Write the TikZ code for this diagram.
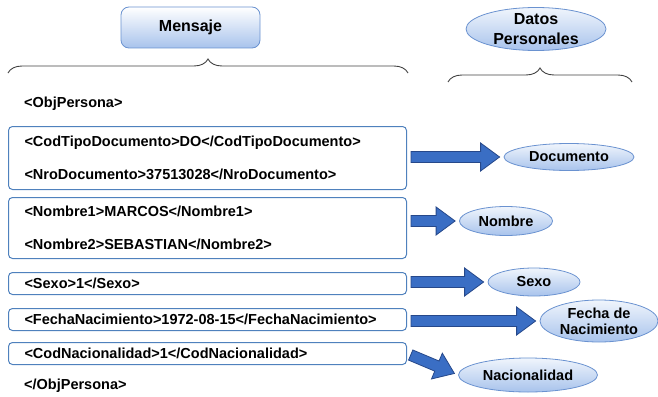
\documentclass[tikz,border=0pt]{standalone}
\usepackage{fontspec}
\setmainfont{Liberation Sans}
\usepackage{xcolor}
\usepackage{tikz}
\usetikzlibrary{calc,shapes.geometric,decorations.pathreplacing}

\definecolor{boxblue}{RGB}{79,129,189}
\definecolor{arrowfill}{RGB}{58,110,196}
\definecolor{arrowedge}{RGB}{38,72,138}
\definecolor{bubbletop}{RGB}{240,245,252}
\definecolor{bubblebot}{RGB}{168,195,236}
\definecolor{bubbleedge}{RGB}{106,146,208}

% fat block arrow between two anchors, 4pt gap at both ends
\newcommand{\blockarrow}[2]{%
  \coordinate (ba-s) at ($(#1)!4pt!(#2)$);
  \coordinate (ba-e) at ($(#2)!4pt!(#1)$);
  \coordinate (ba-n) at ($(ba-e)!19pt!(ba-s)$);
  \filldraw[fatarrow] ($(ba-s)!5.5pt!90:(ba-e)$) -- ($(ba-n)!5.5pt!90:(ba-e)$)
    -- ($(ba-n)!14pt!90:(ba-e)$) -- (ba-e) -- ($(ba-n)!14pt!-90:(ba-e)$)
    -- ($(ba-n)!5.5pt!-90:(ba-e)$) -- ($(ba-s)!5.5pt!-90:(ba-e)$) -- cycle;
}

\begin{document}
\begin{tikzpicture}[x=1pt, y=-1pt,
    xmlbox/.style={draw=boxblue, line width=1pt, rounded corners=4pt, fill=white,
      text width=366pt, inner xsep=16pt, inner ysep=2pt, align=left,
      anchor=north west, font=\fontsize{14.5}{17}\selectfont\bfseries},
    xmltag/.style={anchor=west, inner sep=0pt, font=\fontsize{14.5}{17}\selectfont\bfseries},
    bubble/.style={ellipse, draw=bubbleedge, line width=0.8pt, top color=bubbletop,
      bottom color=bubblebot, inner sep=0pt, align=center,
      font=\fontsize{14.5}{16}\selectfont\bfseries},
    fatarrow/.style={fill=arrowfill, draw=arrowedge, line width=0.8pt, line join=miter},
    curly/.style={decorate, decoration={brace, amplitude=14pt}, draw=black!75, line width=0.9pt}]

\useasboundingbox (0,0) rectangle (658,396);

% Headers
\node[draw=bubbleedge, line width=0.8pt, rounded corners=8pt, top color=white,
  bottom color=bubblebot, minimum width=139pt, minimum height=41pt,
  font=\fontsize{16}{19}\selectfont\bfseries] (mensaje) at (190.5,27.5) {Mensaje};
\node[bubble, minimum width=140pt, minimum height=43pt, inner sep=-3pt,
  font=\fontsize{16}{20}\selectfont\bfseries] (datos) at (536,29) {Datos\\Personales};

% Braces
\draw[curly] (8,73) -- (408,73);
\draw[curly] (448,82) -- (632,82);

% XML message
\node[xmltag] (objopen) at (24,104) {<ObjPersona>};
\node[xmlbox, minimum height=63pt] (box1) at (8,126)
  {<CodTipoDocumento>DO</CodTipoDocumento>\\[16pt]<NroDocumento>37513028</NroDocumento>};
\node[xmlbox, minimum height=61pt] (box2) at (8,197)
  {<Nombre1>MARCOS</Nombre1>\\[16pt]<Nombre2>SEBASTIAN</Nombre2>};
\node[xmlbox, minimum height=22pt] (box3) at (8,272) {<Sexo>1</Sexo>};
\node[xmlbox, minimum height=22pt] (box4) at (8,308)
  {<FechaNacimiento>1972-08-15</FechaNacimiento>};
\node[xmlbox, minimum height=22pt] (box5) at (8,342)
  {<CodNacionalidad>1</CodNacionalidad>};
\node[xmltag] (objclose) at (24,386) {</ObjPersona>};

% Personal data
\node[bubble, minimum width=130pt, minimum height=27pt] (doc) at (569,157) {Documento};
\node[bubble, minimum width=93pt, minimum height=29pt] (nombre) at (506,221) {Nombre};
\node[bubble, minimum width=92pt, minimum height=28pt] (sexo) at (534,282) {Sexo};
\node[bubble, minimum width=118pt, minimum height=42pt, inner sep=-3pt] (fecha) at (599,321)
  {Fecha de\\Nacimiento};
\node[bubble, minimum width=139pt, minimum height=34pt] (nac) at (528,375) {Nacionalidad};

% Arrows
\blockarrow{box1.east |- doc.west}{doc.west}
\blockarrow{box2.east |- nombre.west}{nombre.west}
\blockarrow{box3.east |- sexo.west}{sexo.west}
\blockarrow{box4.east |- fecha.west}{fecha.west}
\blockarrow{box5.east}{nac.west}

\end{tikzpicture}
\end{document}
